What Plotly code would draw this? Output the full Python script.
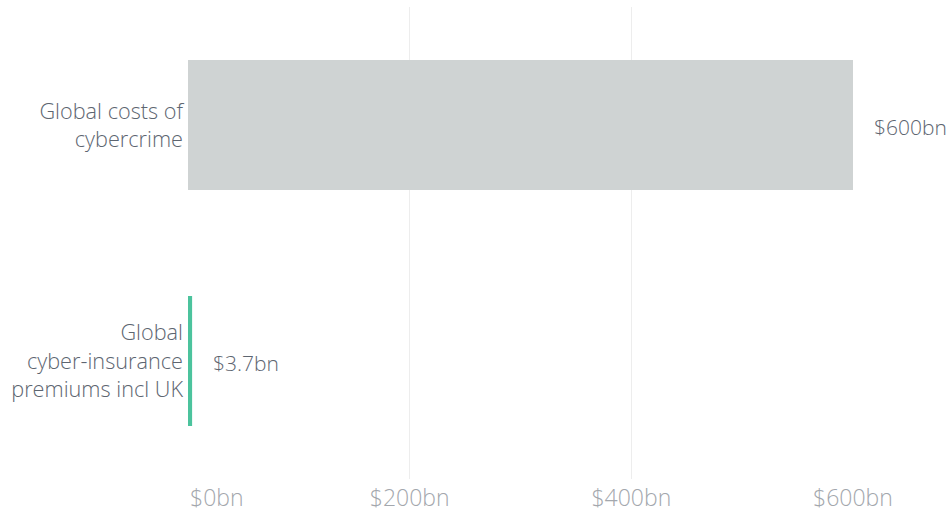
import plotly.graph_objects as go

categories = ["Global costs of<br>cybercrime", "Global<br>cyber-insurance<br>premiums incl UK"]
values = [600, 3.7]
value_labels = ["$600bn", "$3.7bn"]
bar_colors = ["#cfd3d3", "#4cc39d"]
tick_vals = [0, 200, 400, 600]
tick_text = ["$0bn", "$200bn", "$400bn", "$600bn"]

TEXT = "#5d6570"
TICK = "#a3a7ad"

fig = go.Figure(
    go.Bar(
        x=values,
        y=categories,
        orientation="h",
        marker=dict(color=bar_colors, line_width=0),
        width=0.55,
        hoverinfo="skip",
    )
)

for v, lab, cat in zip(values, value_labels, categories):
    fig.add_annotation(
        x=v, y=cat, text=lab, showarrow=False,
        xanchor="left", xshift=19, yshift=-2,
        font=dict(family="Open Sans", size=21, color=TEXT, weight=300),
    )

fig.update_xaxes(
    range=[0, 600],
    tickvals=tick_vals,
    ticktext=tick_text,
    showgrid=True,
    gridcolor="#ededed",
    gridwidth=1,
    zeroline=False,
    showline=False,
    ticks="",
    automargin=False,
    ticklabelstandoff=3,
    tickfont=dict(family="Open Sans", size=23, color=TICK, weight=300),
)
fig.update_yaxes(
    range=[1.5, -0.5],
    showgrid=False,
    zeroline=False,
    showline=False,
    ticks="",
    automargin=False,
    ticklabelstandoff=4,
    tickfont=dict(family="Open Sans", size=21.7, color=TEXT, weight=300),
)
fig.update_layout(
    width=949,
    height=513,
    margin=dict(l=188, r=96, t=7, b=34),
    plot_bgcolor="white",
    paper_bgcolor="white",
    showlegend=False,
)

# page margin off so the 949x513 figure fills the window; semi-condensed tick
# labels, and the first one ($0bn) starts at the axis rather than centred on it
post = (
    "document.body.style.margin='0';"
    "var xt=document.querySelectorAll('.xtick text');"
    "xt.forEach(function(t){t.style.fontStretch='95%';});"
    "if(xt.length){xt[0].setAttribute('text-anchor','start');xt[0].setAttribute('dx','2');}"
)
fig.write_html("out.html", post_script=post, config={"displayModeBar": False})
